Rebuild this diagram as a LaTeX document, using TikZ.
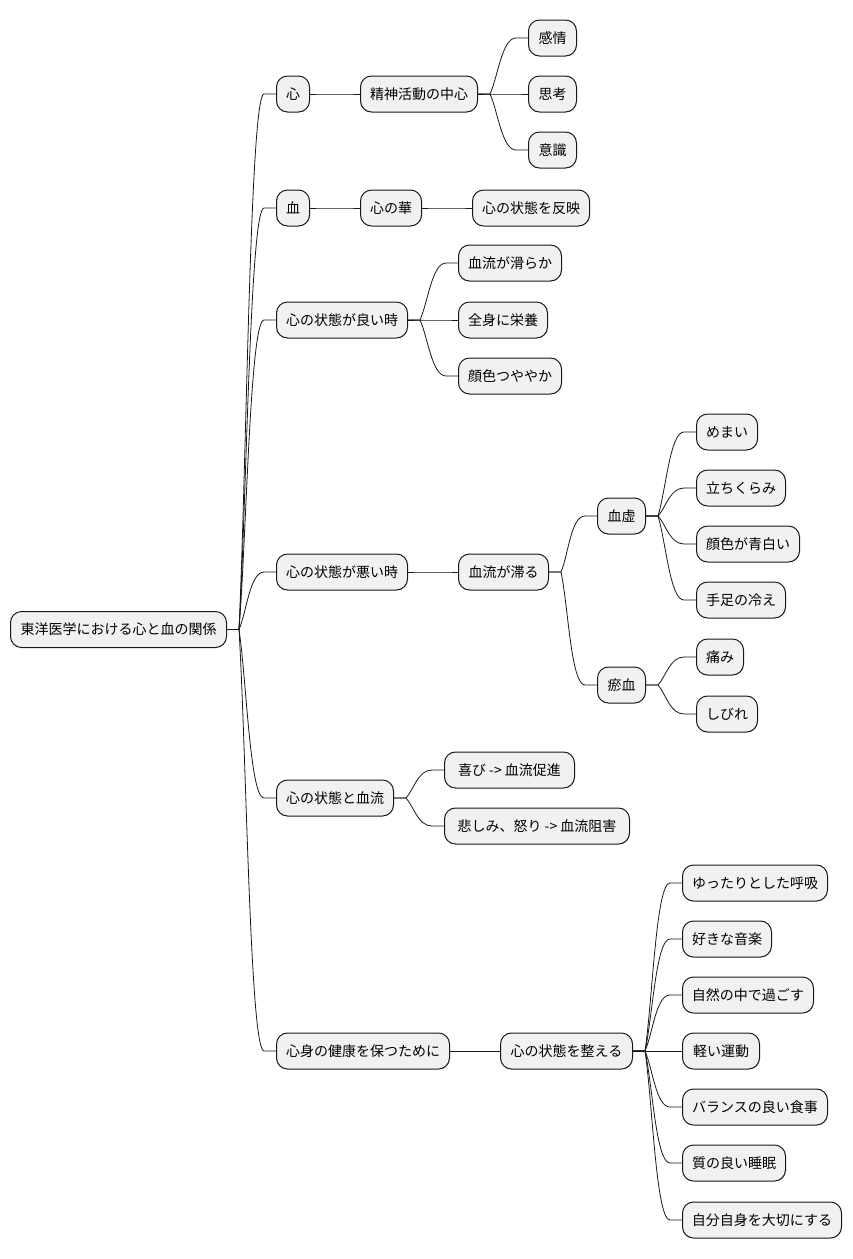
\documentclass[tikz,border=0pt]{standalone}
\usepackage{fontspec}
\setmainfont{Noto Sans CJK JP}
\usetikzlibrary{calc}
\definecolor{nfill}{HTML}{F1F1F1}
\definecolor{nline}{HTML}{181818}
\tikzset{
  mm/.style={draw=nline, fill=nfill, line width=1pt, rounded corners=11pt,
    minimum height=36pt, inner xsep=0pt, anchor=west, align=center,
    font=\fontsize{14}{16}\selectfont},
  edge/.style={draw=nline, line width=0.8pt}
}
\newcommand\nd[5]{\node[mm, minimum width=#4pt] (#1) at (#2,#3) {#5};}
\newcommand\ed[2]{%
  \path ([xshift=12pt]#1.east) coordinate (S) ([xshift=-12pt]#2.west) coordinate (T);
  \draw[edge] (#1.east) -- (S) .. controls ($(S)!0.3!(T)$) and ([xshift=-14pt]T) .. (T) -- (#2.west);}
\begin{document}
\begin{tikzpicture}[x=1pt,y=-1pt]
\fill[white] (0,0) rectangle (852,1259);
\useasboundingbox (0,0) rectangle (852,1259);
% root
\nd{root}{10}{629.5}{216}{東洋医学における心と血の関係}
% level 1
\nd{a}{276}{94}{33}{心}
\nd{b}{276}{208}{33}{血}
\nd{c}{276}{320}{131}{心の状態が良い時}
\nd{d}{276}{572}{131}{心の状態が悪い時}
\nd{e}{276}{798}{117}{心の状態と血流}
\nd{f}{276}{1051}{173}{心身の健康を保つために}
% level 2
\nd{a1}{360}{94}{117}{精神活動の中心}
\nd{b1}{360}{208}{61}{心の華}
\nd{c1}{458}{263}{103}{血流が滑らか}
\nd{c2}{458}{320}{89}{全身に栄養}
\nd{c3}{458}{376}{103}{顔色つややか}
\nd{d1}{458}{572}{90}{血流が滞る}
\nd{e1}{444}{770}{130}{喜び -> 血流促進}
\nd{e2}{444}{826}{185}{悲しみ、怒り -> 血流阻害}
\nd{f1}{500}{1051}{132}{心の状態を整える}
% level 3
\nd{a11}{528}{38}{48}{感情}
\nd{a12}{528}{94}{48}{思考}
\nd{a13}{528}{150}{48}{意識}
\nd{b11}{472}{208}{117}{心の状態を反映}
\nd{d11}{597}{516}{48}{血虚}
\nd{d12}{597}{685}{48}{瘀血}
\nd{f11}{682}{883}{145}{ゆったりとした呼吸}
\nd{f12}{682}{939}{89}{好きな音楽}
\nd{f13}{682}{995}{131}{自然の中で過ごす}
\nd{f14}{682}{1051}{77}{軽い運動}
\nd{f15}{682}{1107}{145}{バランスの良い食事}
\nd{f16}{682}{1163}{103}{質の良い睡眠}
\nd{f17}{682}{1220}{159}{自分自身を大切にする}
% level 4
\nd{g1}{696}{432}{61}{めまい}
\nd{g2}{696}{488}{89}{立ちくらみ}
\nd{g3}{696}{544}{103}{顔色が青白い}
\nd{g4}{696}{600}{89}{手足の冷え}
\nd{h1}{696}{657}{47}{痛み}
\nd{h2}{696}{714}{61}{しびれ}
% edges
\ed{root}{a}\ed{root}{b}\ed{root}{c}\ed{root}{d}\ed{root}{e}\ed{root}{f}
\ed{a}{a1}\ed{a1}{a11}\ed{a1}{a12}\ed{a1}{a13}
\ed{b}{b1}\ed{b1}{b11}
\ed{c}{c1}\ed{c}{c2}\ed{c}{c3}
\ed{d}{d1}\ed{d1}{d11}\ed{d1}{d12}
\ed{d11}{g1}\ed{d11}{g2}\ed{d11}{g3}\ed{d11}{g4}
\ed{d12}{h1}\ed{d12}{h2}
\ed{e}{e1}\ed{e}{e2}
\ed{f}{f1}
\ed{f1}{f11}\ed{f1}{f12}\ed{f1}{f13}\ed{f1}{f14}\ed{f1}{f15}\ed{f1}{f16}\ed{f1}{f17}
\end{tikzpicture}
\end{document}
